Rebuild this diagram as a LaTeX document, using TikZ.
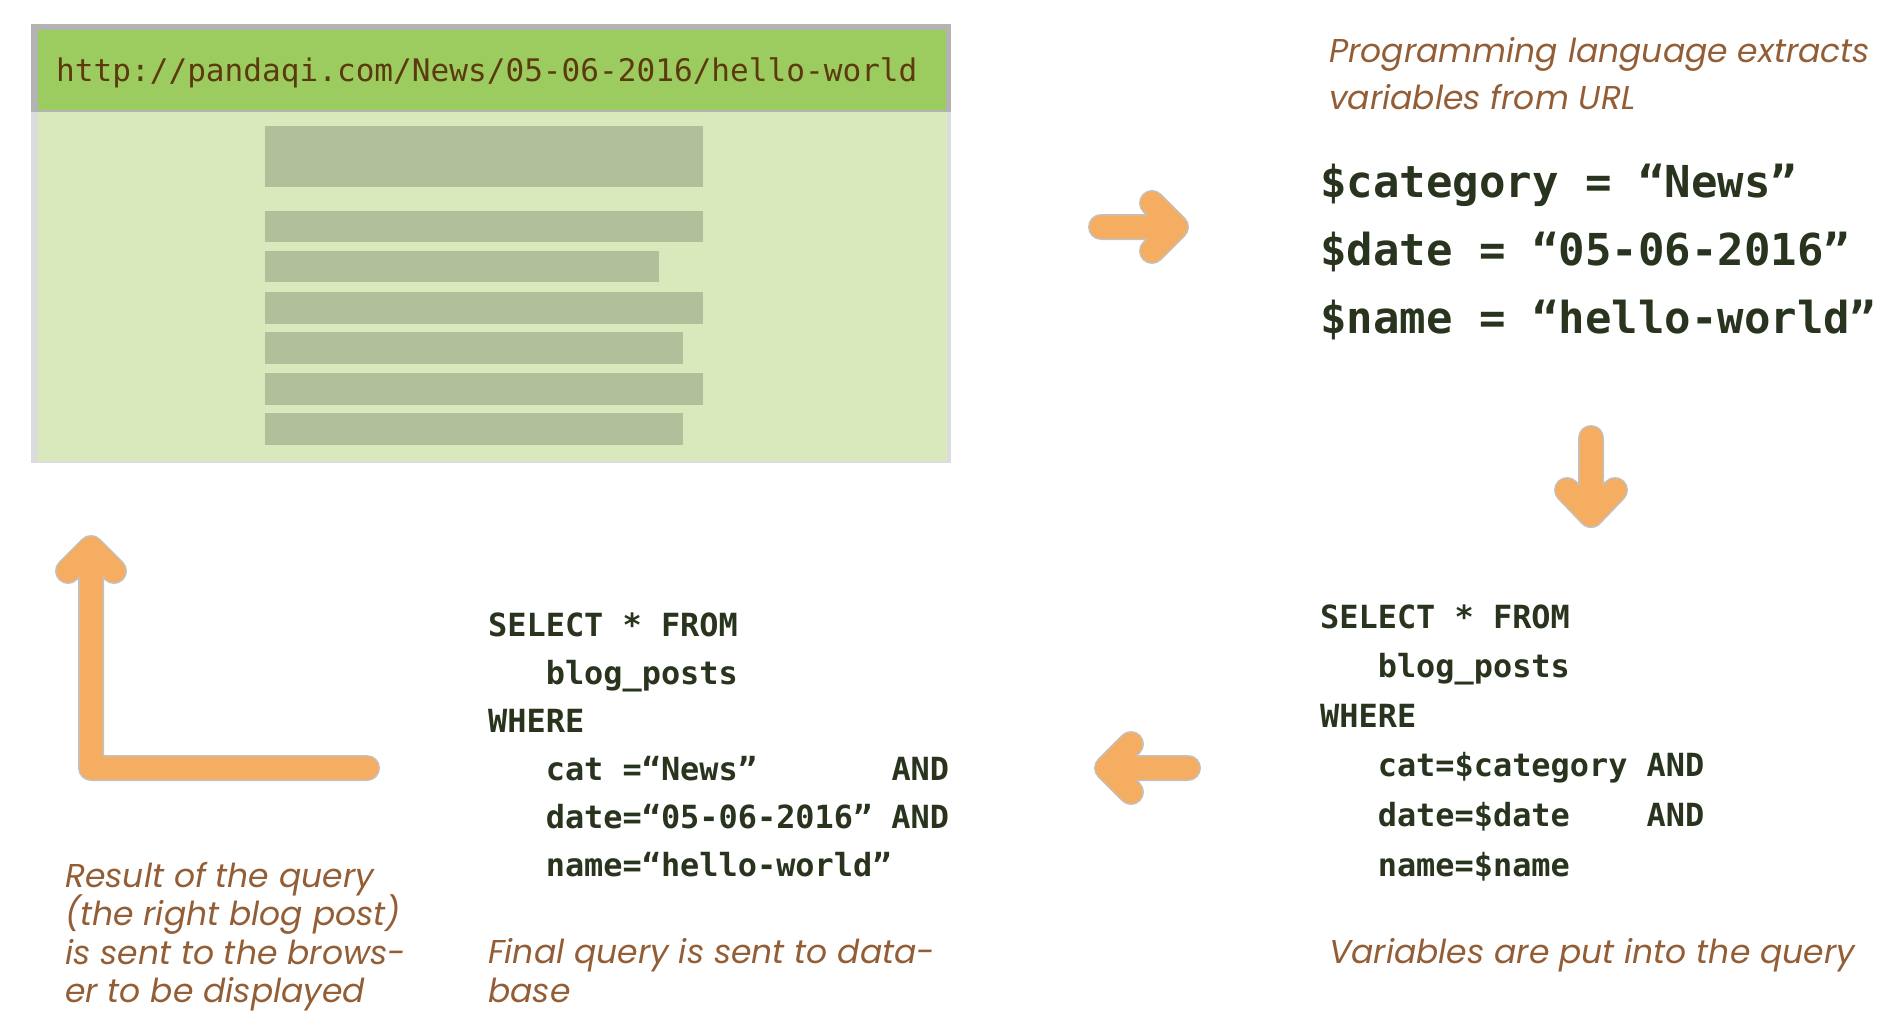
\documentclass[tikz,border=0pt]{standalone}
\usepackage{fontspec}
\setmainfont{Poppins}
\newfontfamily\capfont{Poppins}
\newfontfamily\codefont{DejaVu Sans Mono}
\definecolor{codecol}{HTML}{28341E}
\definecolor{capcol}{HTML}{935E36}
\definecolor{urlcol}{HTML}{5B3A0E}
\definecolor{hdrcol}{HTML}{9CCC5F}
\definecolor{bodycol}{HTML}{D9E9BB}
\definecolor{blockcol}{HTML}{B1C09A}
\definecolor{brddark}{HTML}{B3B3B3}
\definecolor{brdlight}{HTML}{DCDCDC}
\definecolor{orng}{HTML}{F5AD62}
\definecolor{halocol}{HTML}{C2C2C2}
\tikzset{
  code/.style={anchor=base west, inner sep=0pt, text=codecol,
    font=\codefont\bfseries\fontsize{31.9}{38}\selectfont},
  bigcode/.style={anchor=base west, inner sep=0pt, text=codecol,
    font=\codefont\bfseries\fontsize{44}{52}\selectfont},
  captxt/.style={anchor=base west, inner sep=0pt, text=capcol,
    font=\capfont\itshape\fontsize{33}{39}\selectfont},
  arrowline/.style={draw=orng, line width=23pt, line cap=round, line join=round},
  halo/.style={draw=halocol, line width=26pt, line cap=round, line join=round},
  block/.style={fill=blockcol}
}
\begin{document}
\begin{tikzpicture}[x=1pt,y=-1pt]
\useasboundingbox[fill=white] (0,0) rectangle (1900,1030);

% browser window
\fill[brdlight] (31,24) rectangle (951,463);
\fill[brddark] (31,24) rectangle (951,112);
\fill[hdrcol] (38,30) rectangle (946,110);
\fill[bodycol] (38,112) rectangle (947,461);
\node[anchor=base west, inner sep=0pt, text=urlcol,
  font=\codefont\fontsize{31.1}{36}\selectfont] (url) at (56,82)
  {http://pandaqi.com/News/05-06-2016/hello-world};
\fill[block] (265,126) rectangle (703,187);
\fill[block] (265,211) rectangle (703,242);
\fill[block] (265,251) rectangle (659,282);
\fill[block] (265,292) rectangle (703,324);
\fill[block] (265,332) rectangle (683,364);
\fill[block] (265,373) rectangle (703,405);
\fill[block] (265,413) rectangle (683,445);

% top-right caption and variables
\node[captxt] (c1a) at (1329,63) {Programming language extracts};
\node[captxt] (c1b) at (1329,110) {variables from URL};
\node[bigcode] (v1) at (1320,197) {\$category = “News”};
\node[bigcode] (v2) at (1320,265) {\$date = “05-06-2016”};
\node[bigcode] (v3) at (1320,333) {\$name = “hello-world”};

% right query
\node[code] (r1) at (1320,628) {SELECT * FROM};
\node[code] (r2) at (1320,677.6) {~~~blog\_posts};
\node[code] (r3) at (1320,727.2) {WHERE};
\node[code] (r4) at (1320,776.8) {~~~cat=\$category AND};
\node[code] (r5) at (1320,826.4) {~~~date=\$date~~~~AND};
\node[code] (r6) at (1320,876) {~~~name=\$name};
\node[captxt] (c2) at (1329,963) {Variables are put into the query};

% middle query
\node[code] (m1) at (488,636) {SELECT * FROM};
\node[code] (m2) at (488,684) {~~~blog\_posts};
\node[code] (m3) at (488,732) {WHERE};
\node[code] (m4) at (488,780) {~~~cat =“News”~~~~~~~AND};
\node[code] (m5) at (488,828) {~~~date=“05-06-2016” AND};
\node[code] (m6) at (488,876) {~~~name=“hello-world”};
\node[captxt] (c3a) at (488,963) {Final query is sent to data-};
\node[captxt] (c3b) at (488,1002) {base};

% left caption
\node[captxt] (c4a) at (65,887) {Result of the query};
\node[captxt] (c4b) at (65,925.5) {(the right blog post)};
\node[captxt] (c4c) at (65,964) {is sent to the brows-};
\node[captxt] (c4d) at (65,1002.5) {er to be displayed};

% arrow coordinates
\coordinate (a1s) at (1101,227);
\coordinate (a1t) at (1176,227);
\coordinate (a1u) at (1152,203);
\coordinate (a1l) at (1152,251);

\coordinate (a2s) at (1591,438);
\coordinate (a2t) at (1591,515);
\coordinate (a2u) at (1567,490);
\coordinate (a2l) at (1615,490);

\coordinate (a3s) at (1188,768);
\coordinate (a3t) at (1107,768);
\coordinate (a3u) at (1131,744);
\coordinate (a3l) at (1131,792);

\coordinate (a4e) at (367,768);
\coordinate (a4c) at (91,768);
\coordinate (a4t) at (91,548);
\coordinate (a4u) at (68,571);
\coordinate (a4l) at (114,571);

\foreach \st in {halo,arrowline}{
  \draw[\st] (a1s) -- (a1t) (a1u) -- (a1t) -- (a1l);
  \draw[\st] (a2s) -- (a2t) (a2u) -- (a2t) -- (a2l);
  \draw[\st] (a3s) -- (a3t) (a3u) -- (a3t) -- (a3l);
  \draw[\st] (a4e) -- (a4c) -- (a4t) (a4u) -- (a4t) -- (a4l);
}
\end{tikzpicture}
\end{document}
